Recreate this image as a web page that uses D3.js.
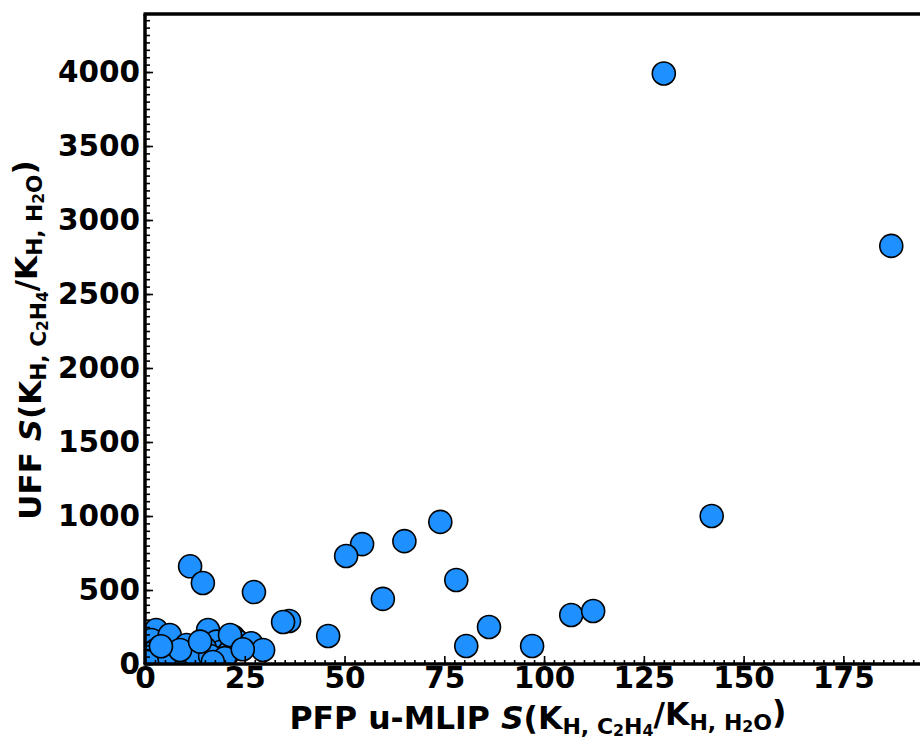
<!DOCTYPE html>
<html>
<head>
<meta charset="utf-8">
<script src="https://cdn.jsdelivr.net/npm/d3@7"></script>
<style>
  body { margin: 0; background: #fff; }
  svg { display: block; font-family: "DejaVu Sans", sans-serif; font-weight: bold; }
</style>
</head>
<body>
<div id="chart"></div>
<script>
//selectivity values, one entry per structure
//pfp = x axis (PFP u-MLIP), uff = y axis (UFF)
var pfp = [130, 187, 142, 74, 65, 54.4, 50.4, 78, 59.6, 11.3, 14.5, 27.3, 36.1, 34.6, 45.9,
    86.2, 80.5, 97, 106.8, 112.3,
    2.8, 1.6, 6.2, 2.8, 7.0, 7.4, 10.4, 15.8, 17.9, 19.1, 22.1, 23.3, 18.7, 26.6, 29.6,
    15.0, 21.2, 1.6, 5.8, 12.8, 16.3, 20.0, 8.8, 0.5, 17.0, 13.8, 21.3, 4.0, 24.5];
var uff = [3990, 2825, 1000, 960, 830, 810, 730, 568, 440, 660, 547, 486, 291, 284, 189,
    250, 122, 122, 331, 358,
    230, 162, 196, 95, 72, 27, 128, 230, 151, 83, 184, 151, 39, 140, 95,
    106, 83, 49, 39, 47, 54, 40, 95, 14, 14, 151, 196, 120, 100];

//tick values for both axes
var xTicks = [0, 25, 50, 75, 100, 125, 150, 175];
var yTicks = [0, 500, 1000, 1500, 2000, 2500, 3000, 3500, 4000];

var svgWidth = 920, svgHeight = 740;
var margin = {top: 14, left: 145, bottom: 76};
var plotWidth = 777;   //right edge falls outside the picture
var plotHeight = svgHeight - margin.top - margin.bottom;

var svg = d3.select("#chart").append("svg")
    .attr("width", svgWidth)
    .attr("height", svgHeight);

var xScale = d3.scaleLinear().domain([0, 194.7]).range([0, plotWidth]);
var yScale = d3.scaleLinear().domain([0, 4392]).range([plotHeight, 0]);

var g = svg.append("g")
    .attr("transform", `translate(${margin.left}, ${margin.top})`);

//clip the circles to the axes area
svg.append("defs").append("clipPath").attr("id", "plotClip")
    .append("rect")
    .attr("width", plotWidth)
    .attr("height", plotHeight);

var points = pfp.map((d, i) => ({x: d, y: uff[i]}));

g.append("g").attr("clip-path", "url(#plotClip)")
    .selectAll("circle")
    .data(points)
    .enter().append("circle")
    .attr("cx", d => xScale(d.x))
    .attr("cy", d => yScale(d.y))
    .attr("r", 11.5)
    .attr("fill", "#1e90ff")
    .attr("stroke", "#000")
    .attr("stroke-width", 1.6);

//minor ticks first, then the major ones with labels
g.append("g")
    .attr("transform", `translate(0, ${plotHeight})`)
    .call(d3.axisBottom(xScale).tickValues(d3.range(0, 195, 2.5)).tickSize(-4).tickFormat(""))
    .call(ax => ax.select(".domain").remove());
g.append("g")
    .call(d3.axisLeft(yScale).tickValues(d3.range(0, 4392, 50)).tickSize(-5).tickFormat(""))
    .call(ax => ax.select(".domain").remove());

var xAxis = g.append("g")
    .attr("transform", `translate(0, ${plotHeight})`)
    .call(d3.axisBottom(xScale).tickValues(xTicks).tickSize(-8).tickPadding(3).tickFormat(d3.format("d")));
var yAxis = g.append("g")
    .call(d3.axisLeft(yScale).tickValues(yTicks).tickSize(-8).tickPadding(5).tickFormat(d3.format("d")));

[xAxis, yAxis].forEach(ax => {
    ax.select(".domain").remove();
    ax.selectAll("text")
        .attr("fill", "#000")
        .style("font-size", "29.5px")
        .style("font-weight", "bold")
        .style("font-family", "DejaVu Sans");
});
g.selectAll(".tick line").attr("stroke", "#000").attr("stroke-width", 1.6);

//spines: left, bottom, top (right one is off the picture)
g.append("line").attr("x1", 0).attr("x2", 0).attr("y1", 0).attr("y2", plotHeight)
    .attr("stroke", "#000").attr("stroke-width", 3.5);
g.append("line").attr("x1", -1.5).attr("x2", plotWidth).attr("y1", plotHeight).attr("y2", plotHeight)
    .attr("stroke", "#000").attr("stroke-width", 3.5);
g.append("line").attr("x1", -1.5).attr("x2", plotWidth).attr("y1", 0).attr("y2", 0)
    .attr("stroke", "#000").attr("stroke-width", 3.5);

//axis label with mathtext style subscripts
function selLabel(sel, prefix) {
    sel.append("tspan").text(prefix);
    sel.append("tspan").attr("font-style", "italic").text("S");
    sel.append("tspan").text("(K");
    sel.append("tspan").attr("font-size", "0.7em").attr("dy", "0.22em").text("H, C");
    sel.append("tspan").attr("font-size", "0.5em").attr("dy", "0.14em").text("2");
    sel.append("tspan").attr("font-size", "0.7em").attr("dy", "-0.1em").text("H");
    sel.append("tspan").attr("font-size", "0.5em").attr("dy", "0.14em").text("4");
    sel.append("tspan").attr("dy", "-0.35em").text("/K");
    sel.append("tspan").attr("font-size", "0.7em").attr("dy", "0.22em").text("H, H");
    sel.append("tspan").attr("font-size", "0.5em").attr("dy", "0.14em").text("2");
    sel.append("tspan").attr("font-size", "0.7em").attr("dy", "-0.1em").text("O");
    sel.append("tspan").attr("dy", "-0.22em").text(")");
}

svg.append("text")
    .attr("x", 538).attr("y", 729)
    .attr("text-anchor", "middle")
    .style("font-size", "31.5px")
    .call(selLabel, "PFP u-MLIP ");

svg.append("text")
    .attr("transform", "translate(41, 340) rotate(-90)")
    .attr("text-anchor", "middle")
    .style("font-size", "31px")
    .call(selLabel, "UFF ");
</script>
</body>
</html>
